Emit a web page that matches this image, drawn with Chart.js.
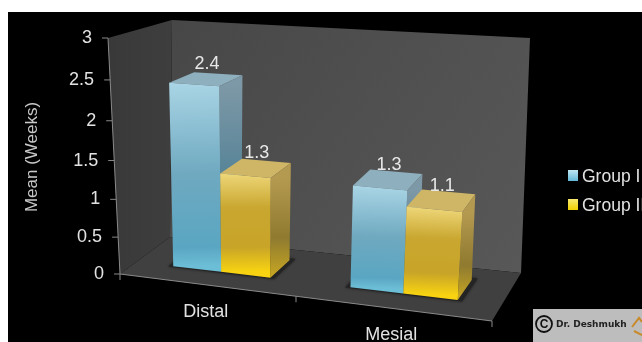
<!DOCTYPE html>
<html>
<head>
<meta charset="utf-8">
<style>
  html, body { margin: 0; padding: 0; background: #fff; overflow: hidden; }
  canvas { display: block; filter: blur(0.55px); }
</style>
<script src="https://cdn.jsdelivr.net/npm/chart.js@4"></script>
</head>
<body>
<canvas id="chart" width="642" height="342"></canvas>
<script>
const categories = ['Distal', 'Mesial'];
const seriesNames = ['Group I', 'Group II'];
const groupOne = [2.4, 1.3];
const groupTwo = [1.3, 1.1];
const yTicks = [0, 0.5, 1, 1.5, 2, 2.5, 3];
const yTitle = 'Mean (Weeks)';

// corners of the 3d box on screen: [left bottom, right bottom, right top, left top]
const frontQuad = [[120, 274], [492, 321], [512, 60], [108, 38]];
const backQuad = [[170, 237], [521, 273], [530, 38], [172, 20]];
const barDepth = [0.33, 0.76];

// unit square -> quad
function homography(q) {
    const [p0, p1, p2, p3] = q;
    const dx1 = p1[0] - p2[0], dx2 = p3[0] - p2[0], sx = p0[0] - p1[0] + p2[0] - p3[0];
    const dy1 = p1[1] - p2[1], dy2 = p3[1] - p2[1], sy = p0[1] - p1[1] + p2[1] - p3[1];
    const det = dx1 * dy2 - dx2 * dy1;
    const g = (sx * dy2 - dx2 * sy) / det;
    const h = (dx1 * sy - sx * dy1) / det;
    const a = p1[0] - p0[0] + g * p1[0], b = p3[0] - p0[0] + h * p3[0];
    const d = p1[1] - p0[1] + g * p1[1], e = p3[1] - p0[1] + h * p3[1];
    return function(u, v) {
        const w = g * u + h * v + 1;
        return [(a * u + b * v + p0[0]) / w, (d * u + e * v + p0[1]) / w];
    };
}
const front = homography(frontQuad);
const back = homography(backQuad);

function project(u, v, w) {
    const f = front(u, v), b = back(u, v);
    return [f[0] + (b[0] - f[0]) * w, f[1] + (b[1] - f[1]) * w];
}

function poly(ctx, pts, fill) {
    ctx.beginPath();
    pts.forEach(function(p, i) { i ? ctx.lineTo(p[0], p[1]) : ctx.moveTo(p[0], p[1]); });
    ctx.closePath();
    ctx.fillStyle = fill;
    ctx.fill();
}

function grad(ctx, a, b, stops) {
    const g = ctx.createLinearGradient(a[0], a[1], b[0], b[1]);
    stops.forEach(function(s) { g.addColorStop(s[0], s[1]); });
    return g;
}

const faces = [
    {
        front: [[0, '#a9d5e5'], [0.5, '#6fa9c0'], [0.9, '#5aa6c2'], [1, '#6cbdd6']],
        side: [[0, '#7d98a6'], [0.6, '#4d7f94'], [1, '#4f93ab']],
        top: '#8eafbe',
        swatch: [[0, '#bfe6f3'], [1, '#62b8d6']]
    },
    {
        front: [[0, '#eed678'], [0.35, '#c9a730'], [0.75, '#c8a428'], [1, '#f7d312']],
        side: [[0, '#b49a50'], [0.6, '#8f7a30'], [1, '#c9a822']],
        top: '#cfb566',
        swatch: [[0, '#f6ea70'], [1, '#f2d000']]
    }
];

const box3d = {
    id: 'box3d',
    beforeDatasetsDraw(chart) {
        const ctx = chart.ctx;
        const x = chart.scales.x, y = chart.scales.y, area = chart.chartArea;
        const uOf = function(px) { return (px - area.left) / area.width; };
        const vOf = function(py) { return (area.bottom - py) / area.height; };

        ctx.save();
        // white frame of the video still, black behind the chart
        ctx.fillStyle = '#fff';
        ctx.fillRect(0, 0, 642, 342);
        ctx.fillStyle = '#000';
        ctx.fillRect(8, 12, 634, 330);

        // walls and floor
        poly(ctx, [project(0, 0, 0), project(0, 1, 0), project(0, 1, 1), project(0, 0, 1)],
            grad(ctx, [110, 0], [172, 0], [[0, '#393939'], [1, '#3e3e3e']]));
        poly(ctx, [project(0, 0, 1), project(0, 1, 1), project(1, 1, 1), project(1, 0, 1)],
            grad(ctx, [172, 20], [530, 270], [[0, '#474747'], [0.5, '#505050'], [1, '#585858']]));
        poly(ctx, [project(0, 0, 0), project(0, 0, 1), project(1, 0, 1), project(1, 0, 0)], '#404040');

        // axis lines
        ctx.strokeStyle = '#8a8a8a';
        ctx.lineWidth = 1;
        let a = project(0, 0, 0), b = project(0, 1, 0), c = project(1, 0, 0);
        ctx.beginPath();
        ctx.moveTo(b[0], b[1]); ctx.lineTo(a[0], a[1]); ctx.lineTo(c[0], c[1]);
        ctx.stroke();

        // y ticks
        ctx.font = '18px "Liberation Sans"';
        ctx.textAlign = 'right';
        ctx.textBaseline = 'middle';
        y.ticks.forEach(function(t) {
            const p = project(0, vOf(y.getPixelForValue(t.value)), 0);
            ctx.beginPath();
            ctx.moveTo(p[0], p[1]); ctx.lineTo(p[0] - 6, p[1]);
            ctx.stroke();
            ctx.fillStyle = '#e2e2e2';
            ctx.fillText(String(t.value), p[0] - 16, p[1]);
        });

        // x ticks and labels
        [0, 0.5, 1].forEach(function(u) {
            const p = project(u, 0, 0);
            ctx.beginPath();
            ctx.moveTo(p[0], p[1]); ctx.lineTo(p[0], p[1] + 6);
            ctx.stroke();
        });
        ctx.textAlign = 'center';
        ctx.font = '18px "Liberation Sans"';
        ctx.fillStyle = '#e2e2e2';
        categories.forEach(function(name, i) {
            const p = project(uOf(x.getPixelForValue(i)), 0, 0);
            ctx.fillText(name, p[0], p[1] + 27);
        });

        // axis title
        ctx.save();
        ctx.translate(32, 157);
        ctx.rotate(-Math.PI / 2);
        ctx.font = '17px "Liberation Sans"';
        ctx.fillStyle = '#c8c8c8';
        ctx.fillText(yTitle, 0, 0);
        ctx.restore();

        // bars, left to right, blue before yellow
        const d0 = barDepth[0], d1 = barDepth[1];
        const bars = [];
        chart.data.datasets.forEach(function(ds, si) {
            chart.getDatasetMeta(si).data.forEach(function(el, i) {
                bars.push({ si: si, i: i, el: el, value: ds.data[i] });
            });
        });
        bars.sort(function(p, q) { return p.i - q.i || p.si - q.si; });

        // floor shadow under each group
        categories.forEach(function(n, i) {
            const grp = bars.filter(function(r) { return r.i === i; });
            const l = uOf(grp[0].el.x - grp[0].el.width / 2) - 0.012;
            const r = uOf(grp[1].el.x + grp[1].el.width / 2) + 0.012;
            ctx.save();
            ctx.shadowColor = 'rgba(0,0,0,0.6)';
            ctx.shadowBlur = 3;
            poly(ctx, [project(l, 0, d0 - 0.02), project(r, 0, d0 - 0.02), project(r, 0, d1 + 0.04), project(l, 0, d1 + 0.04)], '#242424');
            ctx.restore();
        });

        bars.forEach(function(r) {
            const l = uOf(r.el.x - r.el.width / 2), rr = uOf(r.el.x + r.el.width / 2);
            const t = vOf(y.getPixelForValue(r.value));
            const f = faces[r.si];
            const fbl = project(l, 0, d0), fbr = project(rr, 0, d0), ftl = project(l, t, d0), ftr = project(rr, t, d0);
            const bbr = project(rr, 0, d1), btr = project(rr, t, d1), btl = project(l, t, d1);
            poly(ctx, [ftl, btl, btr, ftr], f.top);
            poly(ctx, [ftr, btr, bbr, fbr], grad(ctx, ftr, fbr, f.side));
            poly(ctx, [ftl, ftr, fbr, fbl], grad(ctx, ftl, fbl, f.front));
        });

        // value labels
        ctx.font = '18px "Liberation Sans"';
        ctx.fillStyle = '#e8e8e8';
        bars.forEach(function(r) {
            const u = uOf(r.el.x);
            const t = vOf(y.getPixelForValue(r.value));
            const p = project(u, t, (d0 + d1) / 2);
            ctx.fillText(String(r.value), p[0] + 1, p[1] - 15);
        });

        // legend, cut off by the edge of the frame like the source
        ctx.textAlign = 'left';
        ctx.font = '17.5px "Liberation Sans"';
        seriesNames.forEach(function(name, i) {
            const top = 170 + i * 29;
            ctx.fillStyle = grad(ctx, [0, top], [0, top + 11], faces[i].swatch);
            ctx.fillRect(568, top, 10, 11);
            ctx.fillStyle = '#e2e2e2';
            ctx.fillText(name, 582, top + 7);
        });

        // watermark
        ctx.fillStyle = '#bdbdbd';
        ctx.fillRect(533, 309, 109, 33);
        ctx.strokeStyle = '#111';
        ctx.lineWidth = 1.8;
        ctx.beginPath();
        ctx.arc(544, 324, 8, 0, Math.PI * 2);
        ctx.stroke();
        ctx.fillStyle = '#111';
        ctx.font = 'bold 12px "Liberation Sans"';
        ctx.textAlign = 'center';
        ctx.fillText('C', 544, 324.5);
        ctx.font = 'bold 9px "DejaVu Sans"';
        ctx.textAlign = 'left';
        ctx.fillStyle = '#222';
        ctx.fillText('Dr. Deshmukh', 556, 325);
        ctx.strokeStyle = '#c88a2a';
        ctx.lineWidth = 2;
        ctx.beginPath();
        ctx.moveTo(632, 327); ctx.lineTo(639, 318); ctx.lineTo(642, 322);
        ctx.moveTo(634, 331); ctx.lineTo(642, 335);
        ctx.stroke();
        ctx.restore();
    }
};

new Chart(document.getElementById('chart'), {
    type: 'bar',
    data: {
        labels: categories,
        datasets: [
            { label: seriesNames[0], data: groupOne, backgroundColor: 'rgba(0,0,0,0)', categoryPercentage: 0.56, barPercentage: 1 },
            { label: seriesNames[1], data: groupTwo, backgroundColor: 'rgba(0,0,0,0)', categoryPercentage: 0.56, barPercentage: 1 }
        ]
    },
    options: {
        responsive: false,
        animation: false,
        layout: { padding: { left: 120, right: 120, top: 40, bottom: 60 } },
        plugins: { legend: { display: false }, tooltip: { enabled: false } },
        scales: {
            x: { display: false },
            y: {
                display: false,
                min: yTicks[0],
                max: yTicks[yTicks.length - 1],
                afterBuildTicks(scale) { scale.ticks = yTicks.map(function(v) { return { value: v }; }); }
            }
        }
    },
    plugins: [box3d]
});
</script>
</body>
</html>
